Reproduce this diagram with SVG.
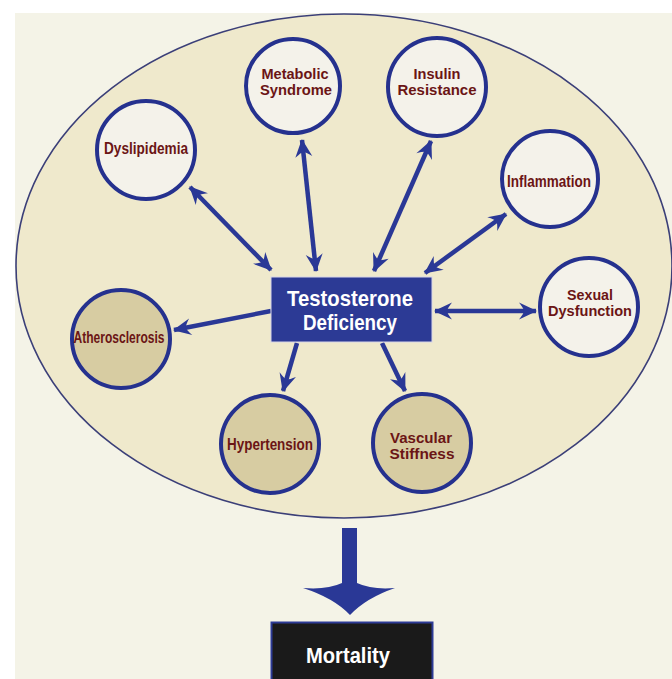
<svg xmlns="http://www.w3.org/2000/svg" width="672" height="679" viewBox="0 0 672 679">
<style>
.lbl{font-family:"Liberation Sans Narrow","Liberation Sans",Arial,sans-serif;font-weight:bold;fill:#6b1515;font-size:16.5px;text-anchor:middle}
.two{font-size:15px}
.wt{font-family:"Liberation Sans Narrow","Liberation Sans",Arial,sans-serif;font-weight:bold;fill:#ffffff;text-anchor:middle}
.light{fill:#f4f2ea;stroke:#25318e;stroke-width:4}
.tan{fill:#d7cca2;stroke:#25318e;stroke-width:4}
.conn{stroke:#2a3896;stroke-width:4.5;fill:none}
</style>
<defs>
<marker id="ah" viewBox="-18 -9 20 18" refX="0" refY="0" markerWidth="20" markerHeight="18" markerUnits="userSpaceOnUse" orient="auto-start-reverse">
<path d="M1,0 L-17,-8.5 Q-12,-2 -12,0 Q-12,2 -17,8.5 Z" fill="#2a3896"/>
</marker>
</defs>
<rect x="0" y="0" width="672" height="679" fill="#ffffff"/>
<rect x="15" y="13" width="657" height="666" fill="#f4f3e7"/>
<ellipse id="outer" cx="344" cy="266" rx="328" ry="252" fill="#efe9cc" stroke="#3b3f78" stroke-width="1.6"/>

<g id="connectors">
<line class="conn" x1="271" y1="270" x2="190" y2="187" marker-start="url(#ah)" marker-end="url(#ah)"/>
<line class="conn" x1="316" y1="271" x2="302" y2="140" marker-start="url(#ah)" marker-end="url(#ah)"/>
<line class="conn" x1="374" y1="271" x2="431" y2="141" marker-start="url(#ah)" marker-end="url(#ah)"/>
<line class="conn" x1="425" y1="273" x2="506" y2="214" marker-start="url(#ah)" marker-end="url(#ah)"/>
<line class="conn" x1="435" y1="311" x2="536" y2="311" marker-start="url(#ah)" marker-end="url(#ah)"/>
<line class="conn" x1="271" y1="311" x2="174" y2="330" marker-end="url(#ah)"/>
<line class="conn" x1="297" y1="343" x2="283" y2="391" marker-end="url(#ah)"/>
<line class="conn" x1="382" y1="343" x2="405" y2="391" marker-end="url(#ah)"/>
<path d="M342,528 L357,528 L357,583 Q372,590 395,588 Q366,598 350,615 Q334,598 303,588 Q327,590 342,583 Z" fill="#2a3896"/>
</g>

<g id="dyslipidemia">
<circle class="light" cx="146" cy="150" r="49"/>
<text class="lbl" x="146" y="154" textLength="84" lengthAdjust="spacingAndGlyphs">Dyslipidemia</text>
</g>
<g id="metabolic">
<circle class="light" cx="293" cy="86" r="47"/>
<text class="lbl two" x="295" y="79" textLength="67" lengthAdjust="spacingAndGlyphs">Metabolic</text>
<text class="lbl two" x="296" y="95" textLength="72" lengthAdjust="spacingAndGlyphs">Syndrome</text>
</g>
<g id="insulin">
<circle class="light" cx="437" cy="87" r="49"/>
<text class="lbl two" x="437" y="79" textLength="47" lengthAdjust="spacingAndGlyphs">Insulin</text>
<text class="lbl two" x="437" y="95" textLength="79" lengthAdjust="spacingAndGlyphs">Resistance</text>
</g>
<g id="inflammation">
<circle class="light" cx="550" cy="179" r="48"/>
<text class="lbl" x="549" y="187" textLength="84" lengthAdjust="spacingAndGlyphs">Inflammation</text>
</g>
<g id="sexual">
<circle class="light" cx="589" cy="307" r="49"/>
<text class="lbl two" x="590" y="300" textLength="46" lengthAdjust="spacingAndGlyphs">Sexual</text>
<text class="lbl two" x="590" y="316" textLength="84" lengthAdjust="spacingAndGlyphs">Dysfunction</text>
</g>
<g id="atherosclerosis">
<circle class="tan" cx="121" cy="339" r="49"/>
<text class="lbl" x="119" y="343" font-size="14.5" textLength="91" lengthAdjust="spacingAndGlyphs">Atherosclerosis</text>
</g>
<g id="hypertension">
<circle class="tan" cx="270" cy="444" r="49"/>
<text class="lbl" x="270" y="450" textLength="86" lengthAdjust="spacingAndGlyphs">Hypertension</text>
</g>
<g id="vascular">
<circle class="tan" cx="422" cy="443" r="49"/>
<text class="lbl two" x="421" y="443" textLength="62" lengthAdjust="spacingAndGlyphs">Vascular</text>
<text class="lbl two" x="422" y="459" textLength="65" lengthAdjust="spacingAndGlyphs">Stiffness</text>
</g>
<g id="testosterone">
<rect x="271" y="277" width="161" height="65" fill="#2c3a95" stroke="#d8d6e8" stroke-width="1"/>
<text class="wt" x="350" y="306" font-size="21.5" textLength="126" lengthAdjust="spacingAndGlyphs">Testosterone</text>
<text class="wt" x="350" y="330" font-size="21.5" textLength="94" lengthAdjust="spacingAndGlyphs">Deficiency</text>
</g>
<g id="mortality">
<rect x="271.5" y="622.5" width="161" height="62" fill="#1a1a1a" stroke="#2c3a95" stroke-width="2"/>
<text class="wt" x="348" y="663" font-size="22" textLength="84" lengthAdjust="spacingAndGlyphs">Mortality</text>
</g>
</svg>
